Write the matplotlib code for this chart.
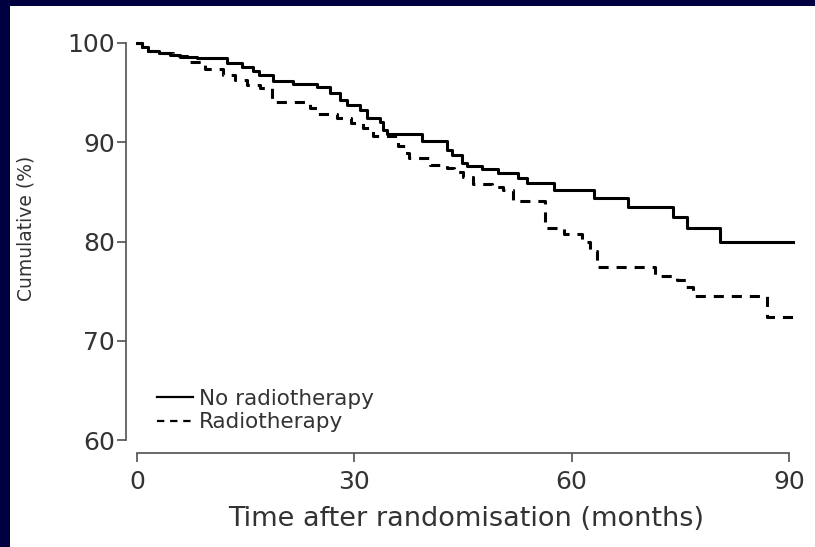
import matplotlib
matplotlib.use("Agg")
import matplotlib.pyplot as plt
from matplotlib.patches import Rectangle

# ---- data ----
no_rt_months = [0, 0.7, 1.5, 3.0, 4.5, 6.0, 8.3, 12.4, 14.5, 16.0, 16.8, 18.8,
                21.5, 24.8, 26.6, 28.0, 29.0, 30.8, 31.8, 33.5, 34.0, 34.5, 39.3,
                42.8, 43.5, 44.9, 45.6, 47.6, 49.8, 52.6, 53.8, 57.6, 63.1,
                67.8, 74.0, 75.9, 80.5, 90.5]
no_rt_pct = [100, 99.6, 99.2, 99.0, 98.8, 98.6, 98.5, 98.0, 97.6, 97.2, 96.8, 96.2,
             95.9, 95.6, 95.0, 94.3, 93.8, 93.2, 92.4, 92.0, 91.2, 90.8, 90.1,
             89.2, 88.7, 87.9, 87.6, 87.3, 86.9, 86.4, 85.9, 85.2, 84.4,
             83.5, 82.5, 81.4, 79.9, 79.9]

rt_months = [0, 0.7, 1.5, 3.0, 5.0, 7.3, 9.4, 11.9, 13.5, 15.2, 17.0, 18.6,
             23.9, 24.8, 27.6, 29.5, 31.2, 32.6, 36.0, 37.0, 37.6, 40.5,
             42.8, 43.8, 45.0, 46.4, 49.0, 50.5, 51.9, 56.3, 59.0, 61.4,
             62.5, 63.5, 71.5, 74.5, 75.8, 76.8, 87.0, 90.5]
rt_pct = [100, 99.6, 99.2, 99.0, 98.7, 98.1, 97.4, 96.8, 96.3, 95.8, 95.5, 94.1,
          93.5, 92.8, 92.4, 91.9, 91.4, 90.6, 89.6, 88.9, 88.4, 87.7,
          87.4, 87.0, 86.5, 85.8, 85.5, 85.2, 84.1, 81.4, 80.8, 80.0,
          79.0, 77.4, 76.5, 76.1, 75.4, 74.5, 72.4, 72.4]

series_labels = ["No radiotherapy", "Radiotherapy"]
x_ticks = [0, 30, 60, 90]
y_ticks = [60, 70, 80, 90, 100]
x_label = "Time after randomisation (months)"
y_label = "Cumulative (%)"

# ---- figure ----
W, H = 815, 547
plt.rcParams['font.family'] = ['DejaVu Sans']
fig = plt.figure(figsize=(W / 100, H / 100), dpi=100)
fig.patch.set_facecolor('#000040')
fig.patches.append(Rectangle((10 / W, 0), 1, 1 - 6 / H, transform=fig.transFigure,
                             facecolor='white', edgecolor='none', zorder=-10))

ax = fig.add_axes([137 / W, 1 - 440 / H, 652 / W, 397 / H])
ax.set_facecolor('none')

lw = 2.2
l1, = ax.step(no_rt_months, no_rt_pct, where='post', color='black', lw=lw,
              clip_on=False, label=series_labels[0])
l2, = ax.step(rt_months, rt_pct, where='post', color='black', lw=lw,
              linestyle=(0, (3.3, 2.6)), clip_on=False, label=series_labels[1])

ax.set_xlim(0, 90)
ax.set_ylim(60, 100)
ax.set_xticks(x_ticks)
ax.set_yticks(y_ticks)

spine_col = '#505050'
text_col = '#333333'
for s in ['top', 'right']:
    ax.spines[s].set_visible(False)
ax.spines['left'].set_position(('outward', 11 * 0.72))
ax.spines['bottom'].set_position(('outward', 13 * 0.72))
ax.spines['left'].set_bounds(60, 100)
ax.spines['bottom'].set_bounds(0, 90)
for s in ['left', 'bottom']:
    ax.spines[s].set_color(spine_col)
    ax.spines[s].set_linewidth(1.2)

ax.tick_params(axis='y', length=6.5, width=1.2, color=spine_col, pad=1.5,
               labelsize=18, labelcolor=text_col)
ax.tick_params(axis='x', length=6.5, width=1.2, color=spine_col, pad=6,
               labelsize=18, labelcolor=text_col)

ax.set_xlabel(x_label, fontsize=19.5, color=text_col)
ax.xaxis.set_label_coords(0.505, -0.165)
ax.set_ylabel(y_label, fontsize=13.5, color=text_col)
ax.yaxis.set_label_coords(-0.155, 0.534)

leg = ax.legend(handles=[l1, l2], loc='upper left',
                bbox_to_anchor=(157 / W, 1 - 389 / H), bbox_transform=fig.transFigure,
                frameon=False, fontsize=15.5, handlelength=1.65, handletextpad=0.3,
                labelspacing=0.15, borderpad=0, borderaxespad=0)
for t in leg.get_texts():
    t.set_color(text_col)
for h in leg.legend_handles:
    h.set_linewidth(1.6)

fig.savefig('out.png', dpi=100, facecolor=fig.get_facecolor())
